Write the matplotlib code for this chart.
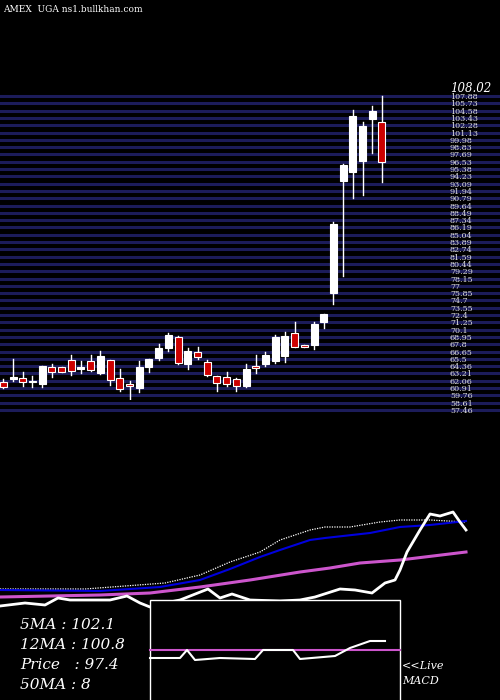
import matplotlib
matplotlib.use("Agg")
import matplotlib.pyplot as plt
from matplotlib.patches import Rectangle

opens  = [60.38,60.98,61.04,60.6,60.1,62.86,62.86,64.08,62.53,63.92,61.98,64.03,61.04,60.1,59.49,62.97,64.47,66.13,67.89,63.47,65.41,63.69,61.43,61.26,60.87,59.82,63.09,63.47,63.92,64.8,68.5,66.57,66.57,70.44,75.24,93.82,95.31,97.08,103.98,103.49]
highs  = [60.87,64.19,62.04,61.43,63.09,63.42,62.86,64.91,63.92,64.91,65.57,64.03,62.59,60.6,63.92,64.19,66.68,68.5,68.06,66.13,66.29,64.08,61.43,62.04,61.04,63.36,64.91,65.46,68.23,68.72,70.38,66.57,70.38,71.71,87.02,96.58,105.53,103.6,106.2,107.85]
lows   = [59.38,60.65,59.82,59.66,59.66,61.32,62.04,61.59,61.87,62.26,61.76,59.94,59.0,55.68,58.83,62.15,64.08,65.57,63.42,62.64,64.19,61.48,59.0,59.77,59.0,59.55,61.98,63.09,63.64,63.81,66.29,66.29,65.96,69.44,73.37,78.01,91.0,91.44,98.46,93.65]
closes = [59.55,61.32,60.38,60.38,63.09,62.04,62.04,62.26,62.97,62.37,64.74,60.71,59.33,59.71,62.97,64.19,66.13,68.23,63.64,65.63,64.63,61.65,60.21,60.05,59.77,62.59,62.7,64.91,67.95,68.06,66.29,66.29,70.05,71.71,86.63,96.41,104.54,102.88,105.37,96.86]

price_labels = ["107.88","105.73","104.58","103.43","102.28","101.13","99.98","98.83","97.69","96.53",
                "95.38","94.23","93.09","91.94","90.79","89.64","88.49","87.34","86.19","85.04","83.89",
                "82.74","81.59","80.44","79.29","78.15","77","75.85","74.7","73.55","72.4","71.25","70.1",
                "68.95","67.8","66.65","65.5","64.36","63.21","62.06","60.91","59.76","58.61","57.46"]

# indicator panel (pixel rows)
ma5_x  = [0,40,85,165,200,230,260,280,310,325,350,380,400,430,466]
ma5_y  = [589,589,589,583,575,562,552,540,530,527,527,522,520,520,522]
ma12_x = [0,100,160,200,230,260,280,310,325,370,400,430,466]
ma12_y = [590,591,587,580,569,557,550,540,538,533,527,525,521]
ma50_x = [0,100,150,200,250,300,330,360,400,466]
ma50_y = [597,595,593,587,580,572,568,563,560,552]
pr_x = [0,25,45,58,70,110,127,140,150,160,180,208,220,232,250,280,300,315,340,355,372,385,395,400,407,420,430,440,453,460,466]
pr_y = [606,603,605,598,600,600,596,603,607,604,600,589,598,594,600,601,600,597,589,590,593,583,580,570,552,530,514,516,512,522,530]
macd_x = [150,180,187,195,220,255,263,293,300,335,350,370,385]
macd_y = [658,658,650,660,658,659,650,650,659,656,648,641,641]
signal_y = 650

fig = plt.figure(figsize=(5,7), dpi=100, facecolor="black")
bg = fig.add_axes([0,0,1,1]); bg.set_xlim(0,500); bg.set_ylim(700,0); bg.axis("off")
bg.set_facecolor("black")

n = len(price_labels)
for k, lab in enumerate(price_labels):
    y = 96 + k*(410-96)/(n-1)
    bg.plot([0,500],[y,y], color="#1c1c5a", lw=2.2, zorder=1)
    bg.text(450, y+1, lab, color="#dddddd", fontsize=5.8, family="DejaVu Serif", va="center", zorder=3)
bg.text(450, 88, "108.02", color="white", fontsize=8.5, style="italic", family="DejaVu Serif", va="center", zorder=3)
bg.text(3, 10, "AMEX  UGA ns1.bullkhan.com", color="white", fontsize=6.5, family="DejaVu Serif", va="center")

step = 9.71
ax = fig.add_axes([0, 1-400/700, 1, 305/700]); ax.axis("off")
ax.set_xlim(-3.3/step, (500-3.3)/step); ax.set_ylim(57.46, 108.02)
ax.patch.set_alpha(0)
for i,(o,h,l,c) in enumerate(zip(opens,highs,lows,closes)):
    ax.plot([i,i],[l,h], color="white", lw=1, zorder=4)
    col = "white" if c >= o else "#cc0000"
    lo, hi = min(o,c), max(o,c)
    ax.add_patch(Rectangle((i-0.36, lo), 0.72, max(hi-lo,0.25), facecolor=col, edgecolor="white", lw=0.8, zorder=5))

bg.plot(ma5_x, ma5_y, color="white", lw=0.9, ls=(0,(1,1)), zorder=4)
bg.plot(ma12_x, ma12_y, color="#0000dd", lw=1.5, zorder=4)
bg.plot(ma50_x, ma50_y, color="#cc55cc", lw=2.2, zorder=4)
bg.plot(pr_x, pr_y, color="white", lw=2, zorder=4)

bg.add_patch(Rectangle((150,600), 250, 105, facecolor="black", edgecolor="white", lw=1, zorder=6))
bg.plot([150,400],[signal_y,signal_y], color="#cc55cc", lw=1.5, zorder=7)
bg.plot(macd_x, macd_y, color="white", lw=1.5, zorder=8)

for y, t in [(625,"5MA : 102.1"),(645,"12MA : 100.8"),(665,"Price   : 97.4"),(685,"50MA : 8")]:
    bg.text(20, y, t, color="white", fontsize=11, style="italic", family="DejaVu Serif", va="center")
bg.text(402, 666, "<<Live", color="white", fontsize=8, style="italic", family="DejaVu Serif", va="center")
bg.text(402, 681, "MACD", color="white", fontsize=8, style="italic", family="DejaVu Serif", va="center")

fig.savefig("out.png", dpi=100, facecolor="black")
